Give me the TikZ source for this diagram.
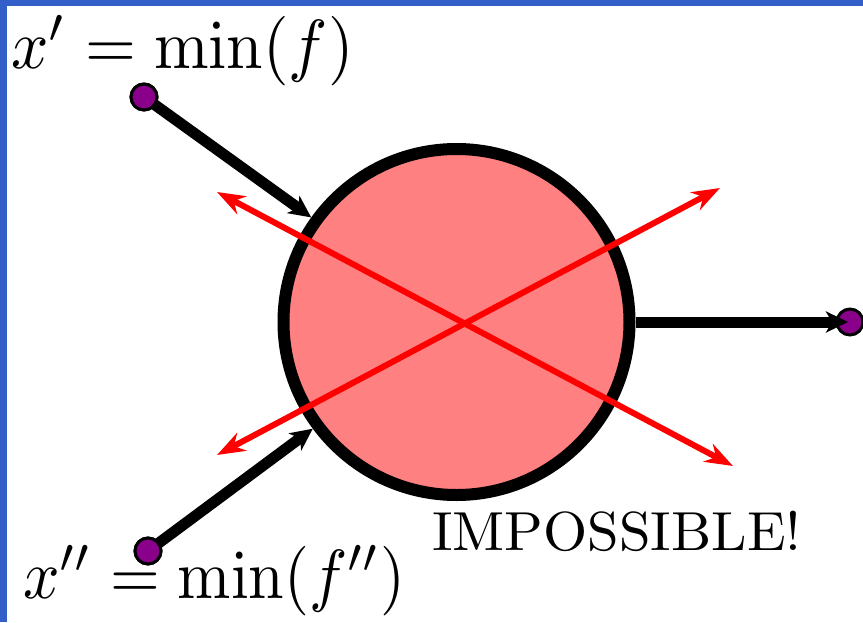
\documentclass[tikz,border=0pt]{standalone}
\usepackage{graphicx}
\usetikzlibrary{arrows.meta}
\definecolor{frameblue}{RGB}{50,95,200}
\definecolor{dotpurple}{RGB}{139,0,139}
\definecolor{circfill}{RGB}{255,128,128}
\begin{document}
\begin{tikzpicture}[x=1pt,y=-1pt,
  bigcirc/.style={circle,draw=black,line width=12pt,fill=circfill,minimum size=346pt,inner sep=0pt},
  dot/.style={circle,draw=black,line width=3pt,fill=dotpurple,minimum size=26pt,inner sep=0pt},
  blackarrow/.style={line width=11pt,-{Stealth[length=22pt,width=21pt,inset=6pt]}},
  redx/.style={draw=red,line width=6pt,{Stealth[length=28pt,width=20pt,inset=9pt]}-{Stealth[length=28pt,width=20pt,inset=9pt]}},
  lbl/.style={anchor=base west,inner sep=0pt,text=black}]
\useasboundingbox (0,0) rectangle (863,622);
\clip (0,0) rectangle (863,622);
\fill[white] (0,0) rectangle (863,622);
\fill[frameblue] (0,0) rectangle (863,6);
\fill[frameblue] (0,0) rectangle (7,622);
% nodes
\node[bigcirc] (c) at (456.5,322) {};
\node[dot] (d1) at (144,97) {};
\node[dot] (d2) at (148,551) {};
\node[dot] (d3) at (850,322) {};
% black arrows into the circle
\draw[blackarrow] (d1.center) -- (c);
\draw[blackarrow] (d2.center) -- (c);
\node[dot] at (d1.center) {};
\node[dot] at (d2.center) {};
\draw[blackarrow,shorten >=2pt] (c) -- (d3.center);
% red cross
\coordinate (r1a) at (217,192);
\coordinate (r1b) at (733,466);
\coordinate (r2a) at (217,455);
\coordinate (r2b) at (720,188);
\draw[redx] (r1a) -- (r1b);
\draw[redx] (r2a) -- (r2b);
% labels
\node[lbl] (t1) at (11,68) {\scalebox{6.55}[6.95]{$x' = \min(f)$}};
\node[lbl] (t2) at (23,598) {\scalebox{6.4}[6.95]{$x'' = \min(f'')$}};
\node[lbl] (t3) at (432,550) {\scalebox{5.68}[5.5]{IMPOSSIBLE!}};
\end{tikzpicture}
\end{document}
